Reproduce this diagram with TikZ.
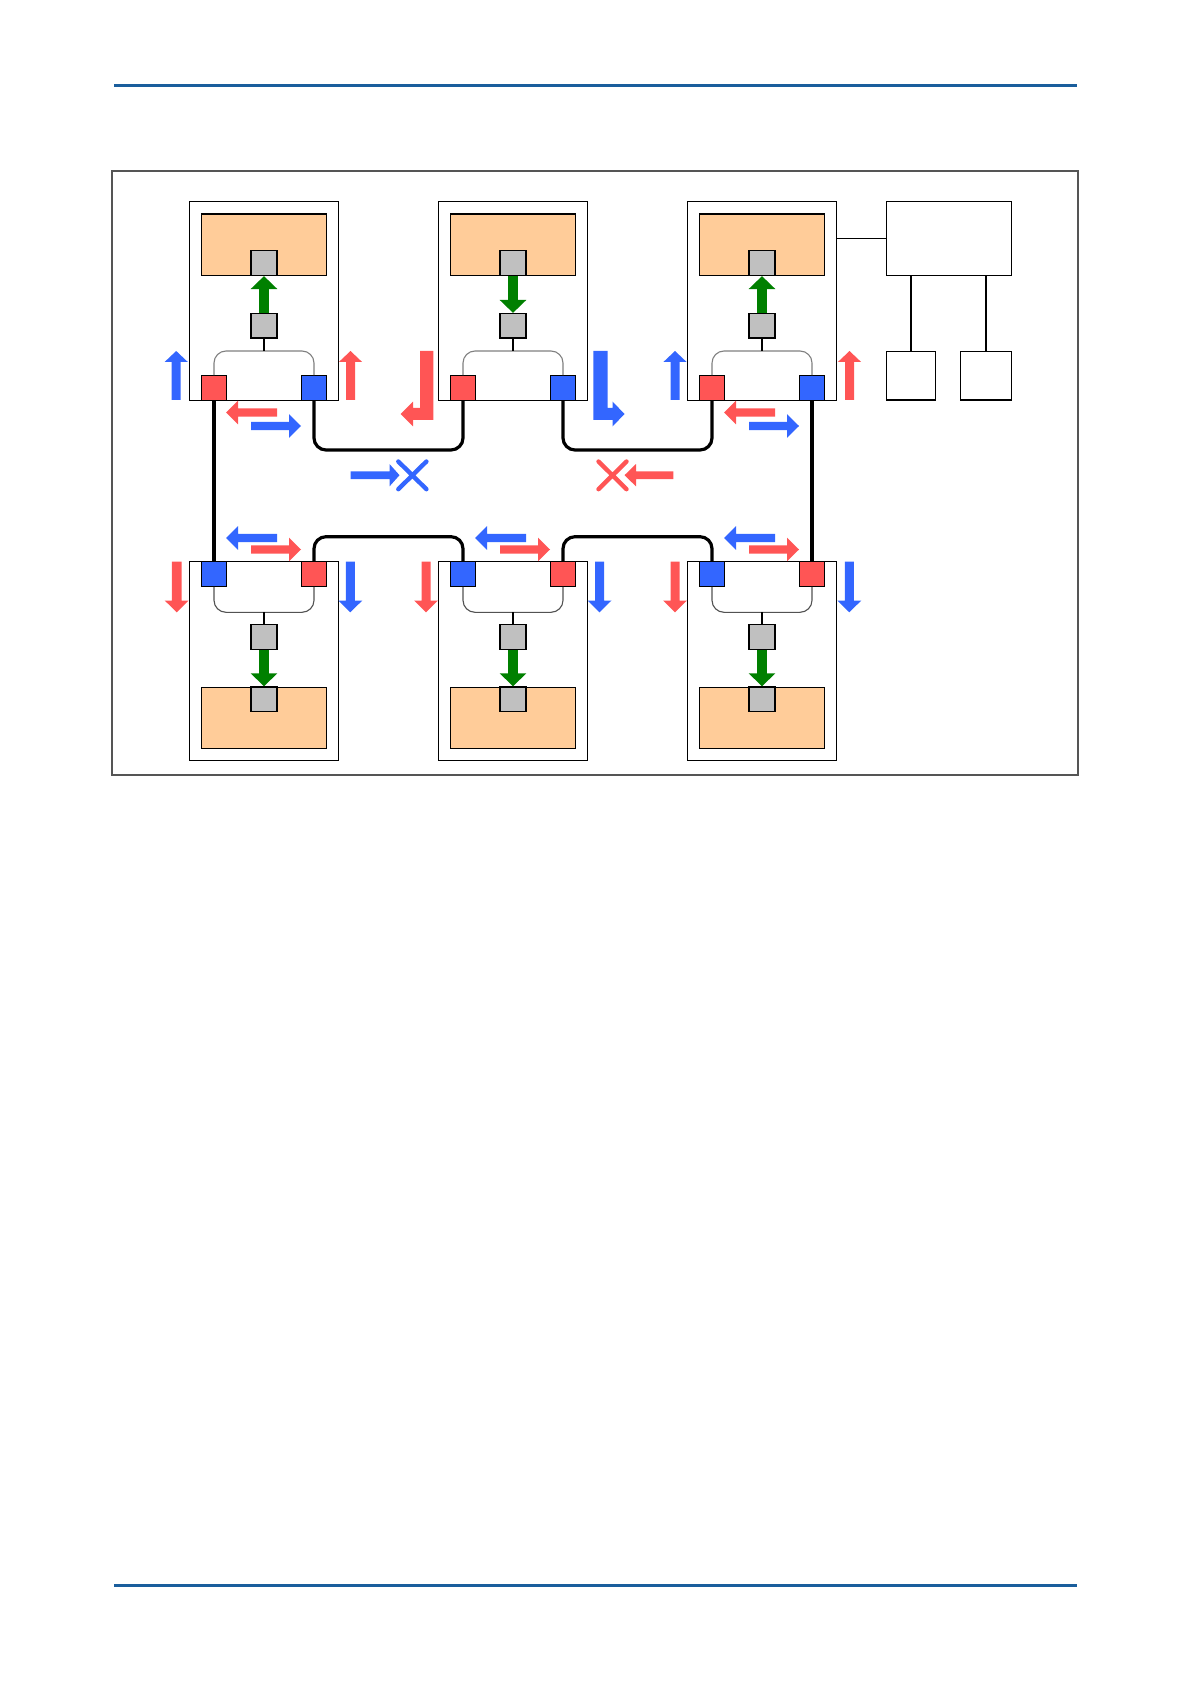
\documentclass[tikz,border=0pt]{standalone}
\usetikzlibrary{arrows.meta,calc}
\definecolor{pred}{HTML}{FF5555}
\definecolor{pblue}{HTML}{3366FF}
\definecolor{porange}{HTML}{FFCC99}
\definecolor{pgray}{HTML}{C0C0C0}
\definecolor{pgreen}{HTML}{008000}
\definecolor{hblue}{HTML}{1A5E9C}
\definecolor{framegray}{HTML}{555555}
\tikzset{
 unitbox/.style={draw=black, line width=0.6pt, fill=white, minimum width=74.5pt, minimum height=99.2pt, inner sep=0pt},
 pfield/.style={draw=black, line width=0.6pt, fill=porange, minimum width=62.7pt, minimum height=30.8pt, inner sep=0pt},
 gbox/.style={draw=black, line width=0.6pt, fill=pgray, minimum width=13pt, minimum height=12.3pt, inner sep=0pt},
 portbox/.style={draw=black, line width=0.6pt, minimum width=12.5pt, minimum height=12.2pt, inner sep=0pt},
 bracket/.style={draw=black!50, line width=0.55pt, rounded corners=6pt},
 bracketlow/.style={draw=black!68, line width=0.55pt, rounded corners=6pt},
 stem/.style={draw=black, line width=0.55pt},
 link/.style={draw=black, line width=1.6pt, rounded corners=6pt},
 garrow/.style={draw=pgreen, line width=4.6pt, -{Triangle[width=13pt,length=6.5pt]}},
 plainbox/.style={draw=black, line width=0.6pt, fill=white, inner sep=0pt},
 xmark/.style={line width=2.2pt, line cap=round},
}
% vertical block arrow: color, x, ystart, ybase, ytip, shaft half, head half
\newcommand{\varr}[7]{\fill[#1] (#2-#6,#3) -- (#2-#6,#4) -- (#2-#7,#4) -- (#2,#5) -- (#2+#7,#4) -- (#2+#6,#4) -- (#2+#6,#3) -- cycle;}
% horizontal block arrow: color, y, xstart, xbase, xtip, shaft half, head half
\newcommand{\harr}[7]{\fill[#1] (#3,#2-#6) -- (#4,#2-#6) -- (#4,#2-#7) -- (#5,#2) -- (#4,#2+#7) -- (#4,#2+#6) -- (#3,#2+#6) -- cycle;}
\newcommand{\topunit}[2]{%
 \node[unitbox] (#1) at (#2,301) {};
 \node[pfield] (#1-f) at (#2,244.8) {};
 \node[gbox] (#1-g1) at (#2,263.2) {};
 \node[gbox] (#1-g2) at (#2,325.8) {};
 \node[portbox,fill=pred] (#1-l) at (#2-50,388) {};
 \node[portbox,fill=pblue] (#1-r) at (#2+50,388) {};
 \coordinate (#1-b) at (#2,351);
 \draw[bracket] (#1-l.north) |- (#1-b) -| (#1-r.north);
 \draw[stem] (#1-g2.south) -- (#1-b);
}
\newcommand{\botunit}[2]{%
 \node[unitbox] (#1) at (#2,661) {};
 \node[pfield] (#1-f) at (#2,718) {};
 \node[gbox] (#1-g1) at (#2,699.2) {};
 \node[gbox] (#1-g2) at (#2,636.8) {};
 \node[portbox,fill=pblue] (#1-l) at (#2-50,574) {};
 \node[portbox,fill=pred] (#1-r) at (#2+50,574) {};
 \coordinate (#1-b) at (#2,612.3);
 \draw[bracketlow] (#1-l.south) |- (#1-b) -| (#1-r.south);
 \draw[stem] (#1-g2.north) -- (#1-b);
 \draw[garrow] (#1-g2.south) -- (#1-g1.north);
 \harr{pblue}{538}{#2+13}{#2-26}{#2-38}{4.2}{11.8}
 \harr{pred}{549.5}{#2-13}{#2+25}{#2+37}{4.2}{11.8}
}
\begin{document}
\begin{tikzpicture}[x=0.5pt,y=-0.5pt]
\useasboundingbox (0,0) rectangle (1191,1684);
% page rules
\draw[hblue, line width=1.5pt] (114,85.8) -- (1077,85.8);
\draw[hblue, line width=1.5pt] (114,1585.2) -- (1077,1585.2);
% frame
\draw[framegray, line width=1.1pt] (112.3,170.7) rectangle (1078.3,775);

% top row
\topunit{t1}{264}
\topunit{t2}{513}
\topunit{t3}{762}
\draw[garrow] (t1-g2.north) -- (t1-g1.south);
\draw[garrow] (t2-g1.south) -- (t2-g2.north);
\draw[garrow] (t3-g2.north) -- (t3-g1.south);

% bottom row
\botunit{b1}{264}
\botunit{b2}{513}
\botunit{b3}{762}

% links
\coordinate (ylow) at (0,450);
\coordinate (yhigh) at (0,536.7);
\draw[link] (t1-l.south) -- (b1-l.north);
\draw[link] (t3-r.south) -- (b3-r.north);
\draw[link] (t1-r.south) -- (t1-r.south |- ylow) -- (t2-l.south |- ylow) -- (t2-l.south);
\draw[link] (t2-r.south) -- (t2-r.south |- ylow) -- (t3-l.south |- ylow) -- (t3-l.south);
\draw[link] (b1-r.north) -- (b1-r.north |- yhigh) -- (b2-l.north |- yhigh) -- (b2-l.north);
\draw[link] (b2-r.north) -- (b2-r.north |- yhigh) -- (b3-l.north |- yhigh) -- (b3-l.north);

% right-hand system
\node[plainbox, minimum width=62.7pt, minimum height=36.8pt] (ctl) at (949,238.5) {};
\node[plainbox, minimum width=24.7pt, minimum height=24.15pt] (s1) at (911,375.85) {};
\node[plainbox, minimum width=25.7pt, minimum height=24.15pt] (s2) at (986,375.85) {};
\draw[line width=0.6pt] (ctl.west) -- (ctl.west -| t3.east);
\draw[line width=0.6pt] (s1.north) -- (s1.north |- ctl.south);
\draw[line width=0.6pt] (s2.north) -- (s2.north |- ctl.south);

% side arrows, top row
\varr{pblue}{176.2}{400}{362}{351}{4.5}{11.6}
\varr{pred}{350.5}{400}{362}{351}{4.5}{11.6}
\varr{pblue}{675}{400}{362}{351}{4.5}{11.6}
\varr{pred}{849.5}{400}{362}{351}{4.5}{11.6}
% bi arrows, top row
\harr{pred}{412.5}{277}{238}{226}{4.2}{11.8}
\harr{pblue}{426}{251}{289}{301}{4.2}{11.8}
\harr{pred}{412.5}{775}{736}{724}{4.2}{11.8}
\harr{pblue}{426}{749}{787}{799}{4.2}{11.8}
% L arrows
\fill[pred] (420,351) -- (433.3,351) -- (433.3,420) -- (413,420) -- (413,426.3) -- (400.7,414) -- (413,401.7) -- (413,408) -- (420,408) -- cycle;
\fill[pblue] (607.7,351) -- (593.3,351) -- (593.3,420) -- (612.7,420) -- (612.7,426.3) -- (624.5,414) -- (612.7,401.7) -- (612.7,408) -- (607.7,408) -- cycle;

% side arrows, bottom row
\varr{pred}{176.7}{561.7}{600.5}{612.3}{4.8}{12}
\varr{pblue}{350.3}{561.7}{600.5}{612.3}{4.5}{12}
\varr{pred}{426}{561.7}{600.5}{612.3}{4.5}{12}
\varr{pblue}{599.5}{561.7}{600.5}{612.3}{4.5}{12}
\varr{pred}{675}{561.7}{600.5}{612.3}{4.5}{12}
\varr{pblue}{849.3}{561.7}{600.5}{612.3}{4.5}{12}

% blocked arrows
\harr{pblue}{475.2}{350.7}{389.5}{399.5}{3.8}{11.2}
\draw[xmark, pblue] (398.3,461.5) -- (426.4,489.2) (398.3,489.2) -- (426.4,461.5);
\harr{pred}{475.2}{673.3}{636}{624.5}{3.8}{11.2}
\draw[xmark, pred] (598.5,461.5) -- (626.5,489.2) (598.5,489.2) -- (626.5,461.5);
\end{tikzpicture}
\end{document}
